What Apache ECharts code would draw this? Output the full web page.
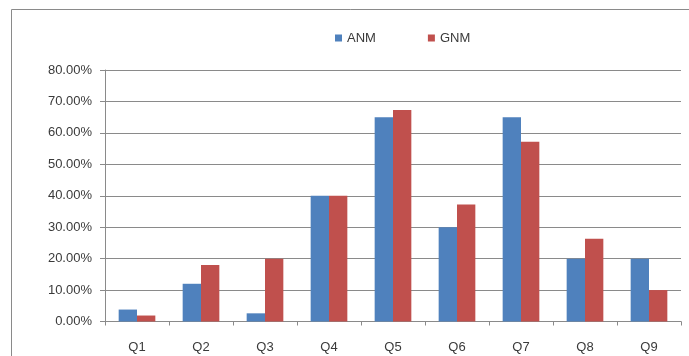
<!DOCTYPE html>
<html>
<head>
<meta charset="utf-8">
<script src="https://cdn.jsdelivr.net/npm/echarts@6/dist/echarts.min.js"></script>
<style>
  html, body { margin: 0; padding: 0; background: #ffffff; }
  #chart { width: 689px; height: 356px; }
</style>
</head>
<body>
<div id="chart"></div>
<script>
// Questions on the category axis
const categories = ['Q1', 'Q2', 'Q3', 'Q4', 'Q5', 'Q6', 'Q7', 'Q8', 'Q9'];
// Share of answers per question, in percent
const anmValues = [3.8, 12.0, 2.6, 40.0, 65.0, 30.0, 65.0, 20.0, 20.0];
const gnmValues = [1.9, 18.0, 20.0, 40.0, 67.3, 37.2, 57.2, 26.3, 10.0];
// Value axis range and step, in percent
const yMin = 0;
const yMax = 80;
const yStep = 10;

const chart = echarts.init(document.getElementById('chart'), null, { renderer: 'canvas' });

const font = 'Liberation Sans, Arial, sans-serif';
const lineColor = '#8a8a8a';
const textColor = '#3a3a3a';

chart.setOption({
  animation: false,
  backgroundColor: '#ffffff',
  graphic: [{
    type: 'rect',
    shape: { x: 11.5, y: 9.5, width: 720, height: 400 },
    style: { fill: 'none', stroke: lineColor, lineWidth: 1 },
    silent: true
  }],
  legend: {
    left: 330,
    top: 26,
    itemWidth: 7,
    itemHeight: 7,
    itemGap: 52,
    icon: 'rect',
    textStyle: { fontFamily: font, fontSize: 13, color: textColor, lineHeight: 14 },
    data: ['ANM', 'GNM']
  },
  grid: { left: 105, right: 8, top: 70, bottom: 34.5 },
  xAxis: {
    type: 'category',
    data: categories,
    axisLine: { lineStyle: { color: lineColor, width: 1 } },
    axisTick: { show: true, length: 4, alignWithLabel: false, lineStyle: { color: lineColor } },
    axisLabel: { fontFamily: font, fontSize: 13, color: textColor, margin: 19 }
  },
  yAxis: {
    type: 'value',
    min: yMin,
    max: yMax,
    interval: yStep,
    axisLine: { show: true, lineStyle: { color: lineColor, width: 1 } },
    axisTick: { show: true, length: 5, lineStyle: { color: lineColor } },
    splitLine: { lineStyle: { color: lineColor, width: 1 } },
    axisLabel: {
      fontFamily: font, fontSize: 13, color: textColor, margin: 13,
      formatter: v => v.toFixed(2) + '%'
    }
  },
  series: [
    {
      name: 'ANM', type: 'bar', data: anmValues,
      barGap: '0%', barCategoryGap: '42.7%',
      itemStyle: { color: '#4f81bd' }
    },
    {
      name: 'GNM', type: 'bar', data: gnmValues,
      barGap: '0%', barCategoryGap: '42.7%',
      itemStyle: { color: '#c0504d' }
    }
  ]
});
</script>
</body>
</html>
